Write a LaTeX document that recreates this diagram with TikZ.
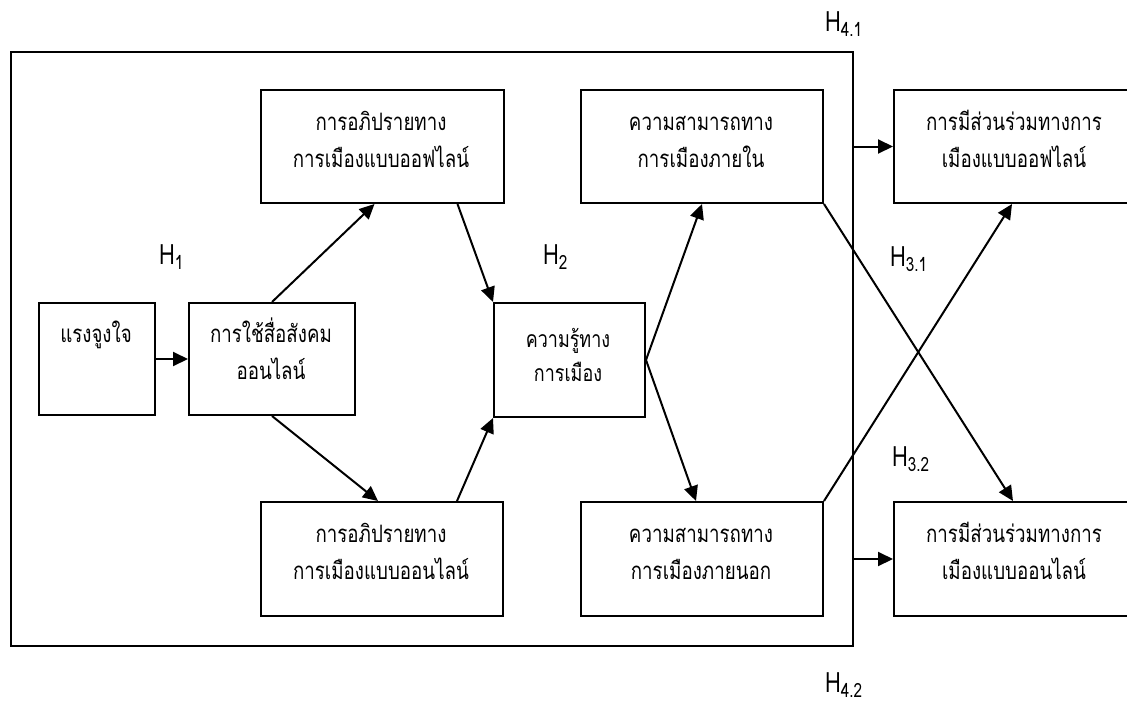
\documentclass[tikz,border=0pt]{standalone}
\usepackage{fontspec}
\newfontfamily\thai[Script=Thai,FakeStretch=0.78]{Loma}
\usetikzlibrary{arrows.meta}
\begin{document}
\begin{tikzpicture}[x=1pt,y=-1pt,
  box/.style={draw,line width=2pt,rectangle,inner sep=0pt,anchor=north west},
  tl/.style={font=\thai\fontsize{24}{26}\selectfont,anchor=base,inner sep=0pt},
  tls/.style={font=\thai\fontsize{23}{25}\selectfont,anchor=base,inner sep=0pt},
  hl/.style={font=\thai\fontsize{28}{30}\selectfont,anchor=base west,inner sep=0pt},
  arr/.style={line width=2pt,-{Triangle[length=15pt,width=14pt]}}]
\useasboundingbox (0,0) rectangle (1127,707);
% outer frame
\node[box,minimum width=842pt,minimum height=594pt] (frame) at (10,51) {};
% boxes
\node[box,minimum width=116pt,minimum height=112pt] (mot) at (38,302) {};
\node[box,minimum width=166pt,minimum height=112pt] (sm) at (188,302) {};
\node[box,minimum width=243pt,minimum height=113pt] (doff) at (260,89) {};
\node[box,minimum width=242pt,minimum height=114pt] (don) at (260,501) {};
\node[box,minimum width=151pt,minimum height=114pt] (kn) at (493,302) {};
\node[box,minimum width=242pt,minimum height=113pt] (ein) at (580,89) {};
\node[box,minimum width=242pt,minimum height=114pt] (eex) at (580,501) {};
\node[box,minimum width=242pt,minimum height=113pt] (poff) at (893,89) {};
\node[box,minimum width=242pt,minimum height=114pt] (pon) at (893,501) {};
% texts
\node[tl] (t1) at (96,342) {แรงจูงใจ};
\node[tl] (t2a) at (271,342) {การใช้สื่อสังคม};
\node[tl] (t2b) at (271,379) {ออนไลน์};
\node[tl] (t3a) at (381,130) {การอภิปรายทาง};
\node[tl] (t3b) at (381,167) {การเมืองแบบออฟไลน์};
\node[tl] (t4a) at (381,542) {การอภิปรายทาง};
\node[tl] (t4b) at (381,579) {การเมืองแบบออนไลน์};
\node[tls] (t5a) at (568,347) {ความรู้ทาง};
\node[tls] (t5b) at (568,381) {การเมือง};
\node[tl] (t6a) at (701,130) {ความสามารถทาง};
\node[tl] (t6b) at (701,167) {การเมืองภายใน};
\node[tl] (t7a) at (701,542) {ความสามารถทาง};
\node[tl] (t7b) at (701,579) {การเมืองภายนอก};
\node[tl] (t8a) at (1014,130) {การมีส่วนร่วมทางการ};
\node[tl] (t8b) at (1014,167) {เมืองแบบออฟไลน์};
\node[tl] (t9a) at (1014,542) {การมีส่วนร่วมทางการ};
\node[tl] (t9b) at (1014,579) {เมืองแบบออนไลน์};
% hypothesis labels
\node[hl] (h1) at (159,264) {H\textsubscript{1}};
\node[hl] (h2) at (543,264) {H\textsubscript{2}};
\node[hl] (h31) at (890,266) {H\textsubscript{3.1}};
\node[hl] (h32) at (892,466) {H\textsubscript{3.2}};
\node[hl] (h41) at (825,31) {H\textsubscript{4.1}};
\node[hl] (h42) at (825,692) {H\textsubscript{4.2}};
% arrows
\draw[arr] (mot.east) -- (sm.west);
\draw[arr] (sm.north) -- ([xshift=-8pt]doff.south);
\draw[arr] (sm.south) -- ([xshift=-4pt]don.north);
\draw[arr] ([xshift=75pt]doff.south) -- (kn.north west);
\draw[arr] ([xshift=75pt]don.north) -- (kn.south west);
\draw[arr] (kn.east) -- (ein.south);
\draw[arr] (kn.east) -- ([xshift=-6pt]eex.north);
\draw[arr] (ein.south east) -- ([xshift=-2pt]pon.north);
\draw[arr] (eex.north east) -- ([xshift=-3pt]poff.south);
\draw[arr] (frame.east |- poff.west) -- (poff.west);
\draw[arr] (frame.east |- pon.west) -- (pon.west);
\end{tikzpicture}
\end{document}
